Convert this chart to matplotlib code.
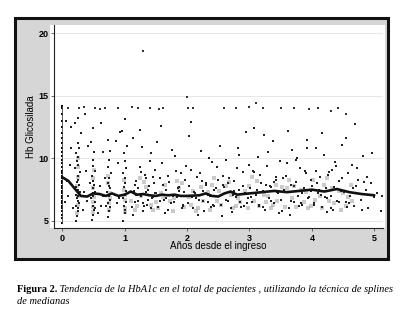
import matplotlib.pyplot as plt
from matplotlib.patches import Rectangle

plt.rcParams["font.family"] = ["Liberation Sans", "DejaVu Sans"]

# baseline measurements (x = 0)
base_y = [4.8, 5.2, 5.5, 5.8, 6.0, 6.2, 6.4, 6.6, 6.8, 7.0, 7.2, 7.4, 7.6, 7.8, 8.0, 8.2,
          8.4, 8.6, 8.8, 9.0, 9.3, 9.6, 9.9, 10.2, 10.5, 10.8, 11.2, 11.6, 12.0, 12.5,
          13.0, 13.5, 14.0, 14.2]

# early visits (stripes at 3, 6, 9, 12 months)
stripe_x = [0.22, 0.24, 0.25, 0.26, 0.23, 0.27, 0.25, 0.24, 0.26, 0.22, 0.28, 0.25, 0.23, 0.27,
            0.24, 0.26, 0.25, 0.29, 0.21, 0.25, 0.24, 0.26, 0.23, 0.27, 0.25, 0.30, 0.20, 0.25,
            0.48, 0.50, 0.51, 0.49, 0.52, 0.47, 0.50, 0.53, 0.49, 0.51, 0.50, 0.48, 0.52, 0.50,
            0.49, 0.51, 0.46, 0.50, 0.52, 0.49,
            0.73, 0.75, 0.76, 0.74, 0.77, 0.75, 0.72, 0.76, 0.74, 0.75, 0.78, 0.73, 0.75, 0.76,
            0.74, 0.71, 0.75,
            0.98, 1.00, 1.01, 0.99, 1.02, 0.97, 1.00, 1.03, 0.99, 1.01, 1.00, 0.98, 1.02, 1.00,
            0.99, 1.04, 0.96, 1.00]
stripe_y = [5.0, 5.4, 5.8, 6.0, 6.2, 6.4, 6.6, 6.8, 7.0, 7.1, 7.3, 7.5, 7.7, 7.9,
            8.1, 8.3, 8.6, 8.9, 9.2, 9.5, 9.8, 10.1, 10.4, 10.8, 11.2, 12.0, 12.8, 13.2,
            5.1, 5.5, 5.9, 6.2, 6.5, 6.8, 7.0, 7.3, 7.6, 7.9, 8.2, 8.6, 9.0, 9.4,
            9.9, 10.5, 11.3, 12.4, 6.0, 7.2,
            5.3, 5.8, 6.1, 6.4, 6.7, 7.0, 7.3, 7.6, 8.0, 8.4, 8.8, 9.3, 9.9, 10.6,
            11.5, 6.2, 7.8,
            5.0, 5.6, 5.9, 6.2, 6.5, 6.8, 7.1, 7.4, 7.7, 8.0, 8.4, 8.8, 9.2, 9.8,
            10.4, 11.0, 12.2, 13.1]

# points between early visits
early_x = [0.05, 0.08, 0.10, 0.12, 0.15, 0.17, 0.35, 0.38, 0.40, 0.42, 0.60, 0.63, 0.65, 0.68,
           0.85, 0.88, 0.90, 0.93, 0.07, 0.14, 0.37, 0.62, 0.87, 0.44, 0.66, 0.91, 0.33, 0.58]
early_y = [6.5, 8.2, 7.0, 9.5, 12.5, 6.0, 7.3, 9.0, 6.6, 11.0, 7.8, 6.2, 10.5, 8.4,
           7.1, 6.4, 9.6, 12.1, 13.0, 10.8, 13.5, 12.8, 11.4, 8.0, 7.0, 6.8, 5.9, 5.6]

# later follow-up
late_x = [1.12, 1.15, 1.18, 1.21, 1.24, 1.27, 1.30, 1.33, 1.36, 1.39, 1.42, 1.45, 1.48, 1.13,
          1.17, 1.22, 1.26, 1.31, 1.35, 1.40, 1.44, 1.47, 1.14, 1.19, 1.25, 1.29, 1.34, 1.38,
          1.43, 1.49, 1.16, 1.28, 1.37, 1.46,
          1.51, 1.54, 1.57, 1.60, 1.63, 1.66, 1.69, 1.72, 1.75, 1.78, 1.81, 1.84, 1.87, 1.90,
          1.93, 1.96, 1.99, 1.52, 1.56, 1.61, 1.65, 1.70, 1.74, 1.79, 1.83, 1.88, 1.92, 1.97,
          1.58, 1.67, 1.76, 1.85, 1.94,
          2.01, 2.04, 2.07, 2.10, 2.13, 2.16, 2.19, 2.22, 2.25, 2.28, 2.31, 2.34, 2.37, 2.40,
          2.43, 2.46, 2.49, 2.03, 2.08, 2.12, 2.17, 2.21, 2.26, 2.30, 2.35, 2.39, 2.44, 2.48,
          2.06, 2.15, 2.24, 2.33, 2.42,
          2.51, 2.54, 2.57, 2.60, 2.63, 2.66, 2.69, 2.72, 2.75, 2.78, 2.81, 2.84, 2.87, 2.90,
          2.93, 2.96, 2.99, 2.53, 2.58, 2.62, 2.67, 2.71, 2.76, 2.80, 2.85, 2.89, 2.94, 2.98,
          2.56, 2.65, 2.74, 2.83, 2.92,
          3.01, 3.04, 3.07, 3.10, 3.13, 3.16, 3.19, 3.22, 3.25, 3.28, 3.31, 3.34, 3.37, 3.40,
          3.43, 3.46, 3.49, 3.03, 3.08, 3.12, 3.17, 3.21, 3.26, 3.30, 3.35, 3.39, 3.44, 3.48,
          3.06, 3.15, 3.24, 3.33, 3.42,
          3.51, 3.54, 3.57, 3.60, 3.63, 3.66, 3.69, 3.72, 3.75, 3.78, 3.81, 3.84, 3.87, 3.90,
          3.93, 3.96, 3.99, 3.53, 3.58, 3.62, 3.67, 3.71, 3.76, 3.80, 3.85, 3.89, 3.94, 3.98,
          3.56, 3.65, 3.74, 3.83, 3.92,
          4.01, 4.04, 4.07, 4.10, 4.13, 4.16, 4.19, 4.22, 4.25, 4.28, 4.31, 4.34, 4.37, 4.40,
          4.43, 4.46, 4.49, 4.03, 4.08, 4.12, 4.17, 4.21, 4.26, 4.30, 4.35, 4.39, 4.44, 4.48,
          4.06, 4.15, 4.24, 4.33,
          4.52, 4.55, 4.58, 4.61, 4.64, 4.67, 4.70, 4.74, 4.78, 4.82, 4.86, 4.90, 4.95, 5.00,
          5.05, 5.10, 4.54, 4.60, 4.66, 4.72, 4.80, 4.88, 4.97, 5.12, 4.57, 4.69, 4.84, 5.18]
late_y = [6.1, 7.4, 8.2, 6.6, 9.3, 7.0, 5.8, 8.7, 6.3, 7.8, 10.4, 6.9, 7.2, 11.6,
          6.5, 7.6, 8.9, 6.2, 7.3, 9.8, 6.8, 8.0, 5.5, 7.1, 12.3, 6.4, 8.4, 7.5,
          6.0, 9.1, 7.9, 10.9, 6.7, 8.5,
          7.2, 6.1, 8.4, 9.6, 6.7, 7.5, 5.9, 8.1, 6.4, 7.0, 10.2, 6.9, 7.7, 8.8,
          6.2, 7.3, 9.4, 11.3, 6.6, 7.9, 5.6, 8.6, 7.1, 6.5, 9.0, 7.4, 6.0, 8.3,
          12.6, 6.8, 10.7, 7.6, 6.3,
          6.4, 7.8, 9.1, 6.0, 7.2, 8.5, 6.7, 10.6, 7.4, 5.8, 8.0, 6.5, 7.0, 9.7,
          6.2, 7.6, 8.3, 11.8, 6.9, 7.3, 5.5, 8.8, 6.6, 7.9, 10.0, 6.1, 7.5, 9.3,
          12.9, 6.8, 8.2, 7.1, 6.3,
          7.0, 6.3, 8.6, 7.7, 9.9, 6.6, 7.3, 5.7, 8.2, 6.9, 10.8, 7.5, 6.1, 8.9,
          7.2, 6.4, 9.5, 11.0, 7.9, 6.7, 8.4, 6.0, 7.4, 9.2, 6.5, 7.8, 12.1, 6.8,
          5.4, 8.0, 7.1, 10.3, 6.2,
          7.6, 6.5, 8.9, 7.1, 10.1, 6.2, 8.0, 7.4, 5.9, 9.4, 6.8, 7.7, 11.4, 6.4,
          8.3, 7.2, 9.8, 6.9, 12.4, 7.5, 8.7, 6.1, 7.9, 10.5, 6.6, 8.1, 7.3, 5.6,
          9.0, 6.3, 11.9, 7.8, 8.5,
          6.7, 8.4, 7.3, 9.6, 6.0, 7.9, 10.7, 6.5, 8.1, 7.0, 9.2, 6.3, 7.6, 8.8,
          11.5, 6.9, 7.4, 5.8, 8.6, 12.2, 6.6, 7.8, 10.0, 6.2, 7.2, 9.0, 6.8, 8.3,
          7.5, 5.5, 9.9, 6.4, 10.8,
          7.8, 6.4, 9.0, 7.2, 8.5, 6.1, 10.3, 7.6, 6.8, 8.9, 7.0, 5.9, 9.7, 6.6,
          8.2, 7.4, 11.1, 6.3, 8.0, 7.5, 12.0, 6.9, 8.7, 6.0, 7.7, 9.4, 6.5, 8.4,
          10.8, 7.1, 5.7, 9.1,
          7.3, 6.5, 8.8, 7.0, 9.5, 6.2, 7.8, 8.3, 6.7, 10.2, 7.5, 6.0, 8.0, 6.9,
          7.2, 5.8, 11.6, 6.4, 7.6, 9.2, 5.9, 8.5, 10.4, 7.0, 6.1, 12.7, 8.1, 5.9]

# capped values and outliers
top_x = [0.10, 0.27, 0.35, 0.52, 0.60, 0.68, 0.90, 1.12, 1.22, 1.40, 1.55, 1.62, 2.02, 2.10,
         2.60, 2.78, 3.00, 3.22, 3.50, 3.72, 3.95, 4.10, 4.42, 1.30, 2.00, 4.55, 4.30, 3.10]
top_y = [14.0, 14.0, 14.1, 14.0, 13.9, 14.0, 14.0, 14.1, 14.0, 14.0, 13.9, 14.0, 14.0, 14.0,
         14.0, 14.0, 14.1, 14.0, 14.0, 14.0, 13.9, 14.0, 14.0, 18.6, 14.9, 13.5, 13.8, 14.4]

# grey halftone cloud in the dense band
grey_x = [0.25, 0.26, 0.24, 0.50, 0.51, 0.49, 0.75, 0.76, 0.74, 1.00, 1.01, 0.99,
          1.20, 1.35, 1.50, 1.65, 1.80, 1.95, 2.10, 2.25, 2.40, 2.55, 2.70, 2.85, 3.00,
          3.15, 3.30, 3.45, 3.60, 3.75, 3.90, 4.05, 4.20, 4.35, 4.50, 4.65,
          1.27, 1.42, 1.58, 1.73, 1.88, 2.03, 2.18, 2.33, 2.48, 2.63, 2.78, 2.93, 3.08,
          3.23, 3.38, 3.53, 3.68, 3.83, 3.98, 4.13, 4.28, 4.43, 4.58,
          0.24, 0.25, 0.26, 0.25, 0.50, 0.49, 0.51, 0.50, 0.75, 0.74, 0.76, 1.00, 0.99, 1.01,
          1.10, 1.16, 1.31, 1.46, 1.62, 1.77, 1.92, 2.07, 2.22, 2.37, 2.52, 2.67, 2.82, 2.97,
          3.12, 3.27, 3.42, 3.57, 3.72, 3.87, 4.02, 4.17, 4.32, 4.47, 4.62,
          1.24, 1.54, 1.84, 2.14, 2.44, 2.74, 3.04, 3.34, 3.64, 3.94, 4.24, 4.54]
grey_y = [6.3, 7.0, 7.8, 6.1, 6.9, 7.6, 6.4, 7.2, 8.0, 6.0, 6.7, 7.5,
          6.2, 7.7, 6.5, 7.9, 6.8, 6.1, 7.4, 6.6, 7.9, 6.3, 7.1, 6.5, 7.8,
          6.2, 7.0, 6.6, 7.6, 6.1, 7.3, 6.7, 7.9, 6.4, 7.2, 6.6,
          7.0, 6.3, 7.2, 6.6, 7.6, 6.9, 6.0, 7.3, 6.6, 7.8, 6.2, 7.4, 6.6,
          7.1, 6.3, 7.7, 6.8, 7.5, 6.2, 7.0, 6.6, 7.4, 6.9,
          5.6, 8.5, 9.3, 10.0, 5.7, 8.4, 9.1, 6.5, 5.9, 8.6, 6.8, 5.7, 8.3, 7.1,
          6.6, 5.9, 8.1, 5.9, 6.9, 5.8, 8.0, 6.3, 7.7, 5.9, 7.4, 8.1, 6.8, 6.0,
          8.2, 6.5, 7.9, 6.1, 7.8, 6.5, 8.3, 6.0, 7.6, 5.9, 7.9,
          8.4, 6.0, 8.2, 5.8, 8.4, 6.0, 8.5, 6.0, 8.3, 6.0, 8.4, 6.2]

# median spline
med_x = [0.0, 0.1, 0.2, 0.3, 0.4, 0.5, 0.6, 0.7, 0.8, 0.9, 1.0, 1.1, 1.2, 1.3, 1.4, 1.5,
         1.6, 1.7, 1.8, 1.9, 2.0, 2.2, 2.3, 2.4, 2.5, 2.6, 2.7, 2.8, 3.0, 3.2, 3.4, 3.6,
         3.8, 4.0, 4.2, 4.4, 4.6, 4.8, 5.0]
med_y = [8.5, 8.2, 7.6, 7.0, 6.95, 7.2, 7.15, 7.0, 7.2, 7.0, 7.1, 7.35, 7.1, 7.15, 7.05, 7.0,
         7.1, 7.05, 7.1, 7.0, 7.0, 7.05, 7.2, 7.0, 6.95, 7.2, 7.35, 7.1, 7.2, 7.3, 7.4, 7.3,
         7.4, 7.5, 7.35, 7.55, 7.3, 7.15, 7.05]

W, H = 408, 321
fig = plt.figure(figsize=(W / 100, H / 100), dpi=100)
fig.patches.append(Rectangle((15 / W, 1 - 259 / H), 373 / W, 241 / H, transform=fig.transFigure,
                             fc="#d6d6d6", ec="#111111", lw=2.2, zorder=-2))
# white panel behind the plot region
fig.patches.append(Rectangle((50 / W, 1 - 228 / H), 335 / W, 203 / H, transform=fig.transFigure,
                             fc="white", ec="none", zorder=-1))

ax = fig.add_axes([54 / W, 1 - 228 / H, 329 / W, 203 / H])
ax.patch.set_visible(False)
ax.set_xlim(-0.13, 5.14)
ax.set_ylim(4.44, 20.64)

for v in [5, 10, 15, 20]:
    ax.axhline(v, color="#e4e4e4", lw=0.6, zorder=0)

ax.scatter(grey_x, grey_y, s=7, marker="s", color="#8c8c8c", alpha=0.45, linewidths=0, zorder=1)
ax.scatter([0.0] * len(base_y), base_y, s=1.5, marker="s", color="black", linewidths=0, zorder=2)
ax.scatter(stripe_x, stripe_y, s=1.3, marker="s", color="#222222", linewidths=0, zorder=2)
ax.scatter(early_x, early_y, s=1.3, marker="s", color="#222222", linewidths=0, zorder=2)
ax.scatter(late_x, late_y, s=1.3, marker="s", color="#222222", linewidths=0, zorder=2)
ax.scatter(top_x, top_y, s=1.3, marker="s", color="#333333", linewidths=0, zorder=2)
ax.plot([0, 0], [min(base_y), max(base_y)], color="#444444", lw=0.6, zorder=2)
ax.plot(med_x, med_y, color="#111111", lw=1.9, solid_capstyle="round", zorder=3)

for s in ["top", "right"]:
    ax.spines[s].set_visible(False)
for s in ["left", "bottom"]:
    ax.spines[s].set_linewidth(0.8)
    ax.spines[s].set_color("#222222")

ax.set_xticks([0, 1, 2, 3, 4, 5])
ax.set_yticks([5, 10, 15, 20])
ax.tick_params(labelsize=6.5, length=2.5, width=0.6, pad=1.5, color="#555555")
for lab in ax.get_xticklabels() + ax.get_yticklabels():
    lab.set_fontweight("bold")
ax.set_xlabel("Años desde el ingreso", fontsize=7, labelpad=-1)
ax.set_ylabel("Hb Glicosilada", fontsize=7, labelpad=2)

cap_font = ["Liberation Serif", "DejaVu Serif"]
t = fig.text(17 / W, 1 - 292 / H, "Figura 2.", fontsize=7.5, fontweight="bold",
             family=cap_font, va="baseline")
ax.annotate(" Tendencia de la HbA1c en el total de pacientes , utilizando la técnica de splines",
            xy=(1, 0), xycoords=t, va="bottom", ha="left", fontsize=7.5, style="italic",
            family=cap_font, annotation_clip=False)
fig.text(17 / W, 1 - 304 / H, "de medianas", fontsize=7.5, style="italic",
         family=cap_font, va="baseline")

fig.savefig("out.png", dpi=100)
